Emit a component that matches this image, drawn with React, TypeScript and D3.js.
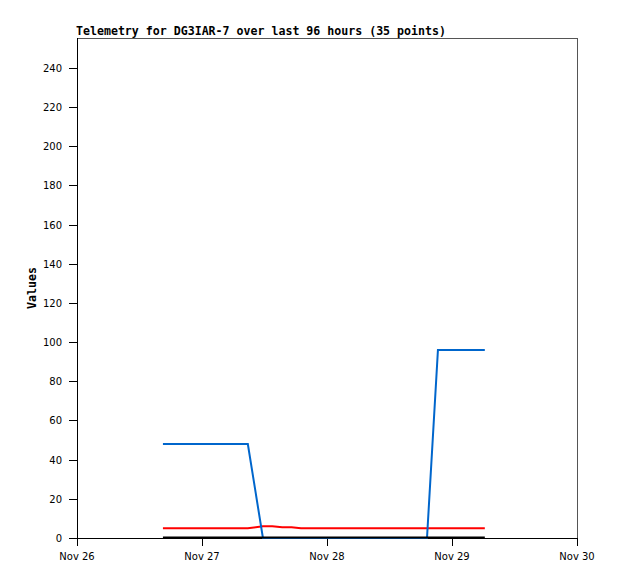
import React from "react";
import * as d3 from "d3";

const title = "Telemetry for DG3IAR-7 over last 96 hours (35 points)";
const yLabel = "Values";
// hours since Nov 26 00:00
const hours = [16.5, 18.3, 20.1, 21.9, 23.7, 25.5, 27.3, 29.1, 30.9, 32.8, 35.7, 37.5, 39.4, 41.2, 43.0, 44.8, 46.7, 48.5, 50.3, 52.1, 54.0, 55.8, 57.6, 59.5, 61.3, 63.1, 65.0, 67.2, 69.3, 71.1, 72.9, 74.7, 76.5, 77.4, 78.3];
const blueValues = [48, 48, 48, 48, 48, 48, 48, 48, 48, 48, 0, 0, 0, 0, 0, 0, 0, 0, 0, 0, 0, 0, 0, 0, 0, 0, 0, 0, 96, 96, 96, 96, 96, 96, 96];
const redValues = [5, 5, 5, 5, 5, 5, 5, 5, 5, 5, 6, 6, 5.5, 5.5, 5, 5, 5, 5, 5, 5, 5, 5, 5, 5, 5, 5, 5, 5, 5, 5, 5, 5, 5, 5, 5];
const blackValues = [0, 0, 0, 0, 0, 0, 0, 0, 0, 0, 0, 0, 0, 0, 0, 0, 0, 0, 0, 0, 0, 0, 0, 0, 0, 0, 0, 0, 0, 0, 0, 0, 0, 0, 0];
const xTickHours = [0, 24, 48, 72, 96];
const xTickLabels = ["Nov 26", "Nov 27", "Nov 28", "Nov 29", "Nov 30"];
const yTicks = [0, 20, 40, 60, 80, 100, 120, 140, 160, 180, 200, 220, 240];

const W = 618, H = 579;
const left = 77, right = 577, top = 38, bottom = 538;

export default function App() {
  const x = d3.scaleLinear().domain([0, 96]).range([left, right]);
  const y = d3.scaleLinear().domain([0, 255.3]).range([bottom, top]);
  const line = (vals: number[]) =>
    d3.line<number>().x((_, i) => x(hours[i])).y((d) => y(d))(vals) || "";
  const series = [
    { vals: redValues, color: "#ff0000", dy: 0 },
    { vals: blueValues, color: "#0066cc", dy: 0 },
    { vals: blackValues, color: "#000000", dy: -0.5 },
  ];
  return (
    <svg width={W} height={H} style={{ position: "absolute", left: 0, top: 0, background: "#fff" }}>
      <rect x={0} y={0} width={W} height={H} fill="#fff" />
      <text x={left - 1} y={35} fontFamily="'DejaVu Sans Mono', monospace" fontWeight="bold" fontSize={11.6} fill="#000">
        {title}
      </text>
      <text
        transform={`translate(36,${(top + bottom) / 2}) rotate(-90)`}
        textAnchor="middle"
        fontFamily="'DejaVu Sans Mono', monospace"
        fontWeight="bold"
        fontSize={11.6}
        fill="#000"
      >
        {yLabel}
      </text>
      <g shapeRendering="crispEdges">
        <line x1={left} x2={right} y1={top + 0.5} y2={top + 0.5} stroke="#555" />
        <line x1={right + 0.5} x2={right + 0.5} y1={top} y2={bottom} stroke="#555" />
        <line x1={left + 0.5} x2={left + 0.5} y1={top} y2={bottom + 1} stroke="#000" />
        <line x1={left} x2={right + 1} y1={bottom + 0.5} y2={bottom + 0.5} stroke="#000" />
        {yTicks.map((t) => (
          <g key={t}>
            <line x1={left - 8} x2={left} y1={Math.round(y(t)) + 0.5} y2={Math.round(y(t)) + 0.5} stroke="#000" />
            <text x={left - 15} y={Math.round(y(t)) + 4} textAnchor="end" fontFamily="'DejaVu Sans', sans-serif" fontSize={10} fill="#000">
              {t}
            </text>
          </g>
        ))}
        {xTickHours.map((h, i) => (
          <g key={h}>
            <line x1={Math.round(x(h)) + 0.5} x2={Math.round(x(h)) + 0.5} y1={bottom} y2={bottom + 8} stroke="#000" />
            <text x={x(h)} y={bottom + 22} textAnchor="middle" fontFamily="'DejaVu Sans', sans-serif" fontSize={10} fill="#000">
              {xTickLabels[i]}
            </text>
          </g>
        ))}
      </g>
      {series.map((s, i) => (
        <path key={i} d={line(s.vals)} transform={`translate(0,${s.dy})`} fill="none" stroke={s.color} strokeWidth={2} />
      ))}
    </svg>
  );
}
